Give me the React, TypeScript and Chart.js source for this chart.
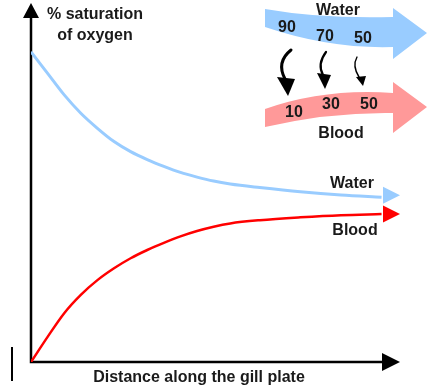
import React, { useEffect, useRef } from "react";
import { Chart, registerables } from "chart.js";

Chart.register(...registerables);

// Distance along the gill plate (arbitrary units)
const distance = [0, 0.45, 0.9, 1.35, 1.8, 2.25, 2.7, 3.15, 3.6, 4.05, 4.5, 4.95, 5.4, 6.2, 7.3, 8.4, 9.5];
// % saturation of oxygen
const waterSaturation = [86.4, 80.4, 74.4, 69.3, 65.1, 61.4, 58.6, 56.4, 54.5, 52.8, 51.5, 50.4, 49.6, 48.6, 47.4, 46.5, 45.9];
const bloodSaturation = [0, 7.0, 13.6, 18.7, 22.8, 26.1, 28.9, 31.2, 33.2, 35.0, 36.5, 37.7, 38.6, 39.5, 40.3, 40.9, 41.2];

const seriesLabels = ["Water", "Blood"];
const waterFlowValues = ["90", "70", "50"];
const bloodFlowValues = ["10", "30", "50"];
const yAxisTitle = ["% saturation", "of oxygen"];
const xAxisTitle = "Distance along the gill plate";

const BLUE = "#99ccff";
const RED = "#ff0000";
const PINK = "#ff9999";
const TEXT = "#1a1a1a";
const FONT = "bold 16px 'Liberation Sans', Arial, sans-serif";

function tri(ctx: CanvasRenderingContext2D, pts: number[][], color: string) {
  ctx.beginPath();
  ctx.moveTo(pts[0][0], pts[0][1]);
  for (let i = 1; i < pts.length; i++) ctx.lineTo(pts[i][0], pts[i][1]);
  ctx.closePath();
  ctx.fillStyle = color;
  ctx.fill();
}

const diagramPlugin = {
  id: "diagram",
  beforeDatasetsDraw(chart: any) {
    const ctx: CanvasRenderingContext2D = chart.ctx;
    const xs = chart.scales.x;
    const ys = chart.scales.y;
    const x0 = xs.getPixelForValue(0);
    const y0 = ys.getPixelForValue(0);
    const xEnd = xs.getPixelForValue(xs.max);
    const yTop = ys.getPixelForValue(ys.max);
    ctx.save();
    ctx.strokeStyle = "#000";
    ctx.lineWidth = 2.5;
    ctx.beginPath();
    ctx.moveTo(x0, yTop + 12);
    ctx.lineTo(x0, y0);
    ctx.lineTo(xEnd - 16, y0);
    ctx.stroke();
    tri(ctx, [[x0, yTop], [x0 - 8, yTop + 15], [x0 + 8, yTop + 15]], "#000");
    tri(ctx, [[xEnd, y0], [xEnd - 18, y0 - 9], [xEnd - 18, y0 + 9]], "#000");
    // stray mark at the left
    ctx.fillStyle = "#000";
    ctx.fillRect(11, 347, 2, 34);
    ctx.restore();
  },
  afterDatasetsDraw(chart: any) {
    const ctx: CanvasRenderingContext2D = chart.ctx;
    const xs = chart.scales.x;
    const xEnd = xs.getPixelForValue(xs.max);
    ctx.save();
    // curve arrowheads
    const colors = [BLUE, RED];
    const offs = [-2, 0];
    chart.data.datasets.forEach((ds: any, i: number) => {
      const meta = chart.getDatasetMeta(i);
      const last = meta.data[meta.data.length - 1];
      const y = last.y + offs[i];
      tri(ctx, [[xEnd, y], [xEnd - 17, y - 8.5], [xEnd - 17, y + 8.5]], colors[i]);
    });

    ctx.fillStyle = TEXT;
    ctx.font = FONT;
    ctx.textAlign = "center";
    ctx.textBaseline = "middle";
    // series labels near arrows
    ctx.fillText(seriesLabels[0], 352, 184);
    ctx.fillText(seriesLabels[1], 355, 231);
    // axis titles
    ctx.fillText(yAxisTitle[0], 95, 15);
    ctx.fillText(yAxisTitle[1], 95, 36);
    ctx.fillText(xAxisTitle, 199, 378);

    // top-right inset: water band
    ctx.beginPath();
    ctx.moveTo(265, 9);
    ctx.quadraticCurveTo(322, 19, 393, 17);
    ctx.lineTo(393, 8);
    ctx.lineTo(427, 33);
    ctx.lineTo(393, 59);
    ctx.lineTo(393, 47);
    ctx.quadraticCurveTo(330, 49, 265, 27);
    ctx.closePath();
    ctx.fillStyle = BLUE;
    ctx.fill();
    // blood band
    ctx.beginPath();
    ctx.moveTo(265, 109);
    ctx.quadraticCurveTo(325, 88, 393, 93);
    ctx.lineTo(393, 82);
    ctx.lineTo(427, 107);
    ctx.lineTo(393, 133);
    ctx.lineTo(393, 113);
    ctx.quadraticCurveTo(330, 112, 265, 127);
    ctx.closePath();
    ctx.fillStyle = PINK;
    ctx.fill();

    ctx.fillStyle = TEXT;
    ctx.fillText(seriesLabels[0], 338, 11);
    ctx.fillText(seriesLabels[1], 341, 134);
    const wPos = [[287, 28], [325, 37], [363, 39]];
    waterFlowValues.forEach((t, i) => ctx.fillText(t, wPos[i][0], wPos[i][1]));
    const bPos = [[294, 113], [331, 105], [369, 105]];
    bloodFlowValues.forEach((t, i) => ctx.fillText(t, bPos[i][0], bPos[i][1]));

    // curly transfer arrows
    ctx.strokeStyle = "#000";
    ctx.lineCap = "round";
    const arrows = [
      { p: [291, 50, 276, 62, 285, 79], w: 3, h: [[288, 96], [277, 77], [295, 79]] },
      { p: [326, 52, 317, 64, 323, 75], w: 2.2, h: [[325, 89], [317, 73], [331, 75]] },
      { p: [357, 57, 352, 66, 359, 77], w: 1.4, h: [[363, 86], [356, 77], [366, 76]] },
    ];
    arrows.forEach((a) => {
      ctx.lineWidth = a.w;
      ctx.beginPath();
      ctx.moveTo(a.p[0], a.p[1]);
      ctx.quadraticCurveTo(a.p[2], a.p[3], a.p[4], a.p[5]);
      ctx.stroke();
      tri(ctx, a.h, "#000");
    });
    ctx.restore();
  },
};

export default function App() {
  const ref = useRef<HTMLCanvasElement>(null);
  useEffect(() => {
    document.body.style.margin = "0";
    const chart = new Chart(ref.current as HTMLCanvasElement, {
      type: "line",
      data: {
        labels: distance,
        datasets: [
          {
            label: seriesLabels[0],
            data: distance.map((x, i) => ({ x, y: waterSaturation[i] })),
            borderColor: BLUE,
            borderWidth: 3,
            pointRadius: 0,
            cubicInterpolationMode: "monotone",
          },
          {
            label: seriesLabels[1],
            data: distance.map((x, i) => ({ x, y: bloodSaturation[i] })),
            borderColor: RED,
            borderWidth: 2.5,
            pointRadius: 0,
            cubicInterpolationMode: "monotone",
          },
        ],
      },
      options: {
        animation: false,
        responsive: false,
        layout: { padding: { left: 31, right: 40, top: 3, bottom: 30 } },
        plugins: { legend: { display: false }, tooltip: { enabled: false } },
        scales: {
          x: { type: "linear", min: 0, max: 10, display: false },
          y: { type: "linear", min: 0, max: 100, display: false },
        },
      },
      plugins: [diagramPlugin],
    });
    return () => chart.destroy();
  }, []);
  return (
    <div style={{ width: 440, height: 392, background: "#fff" }}>
      <canvas ref={ref} width={440} height={392} />
    </div>
  );
}
